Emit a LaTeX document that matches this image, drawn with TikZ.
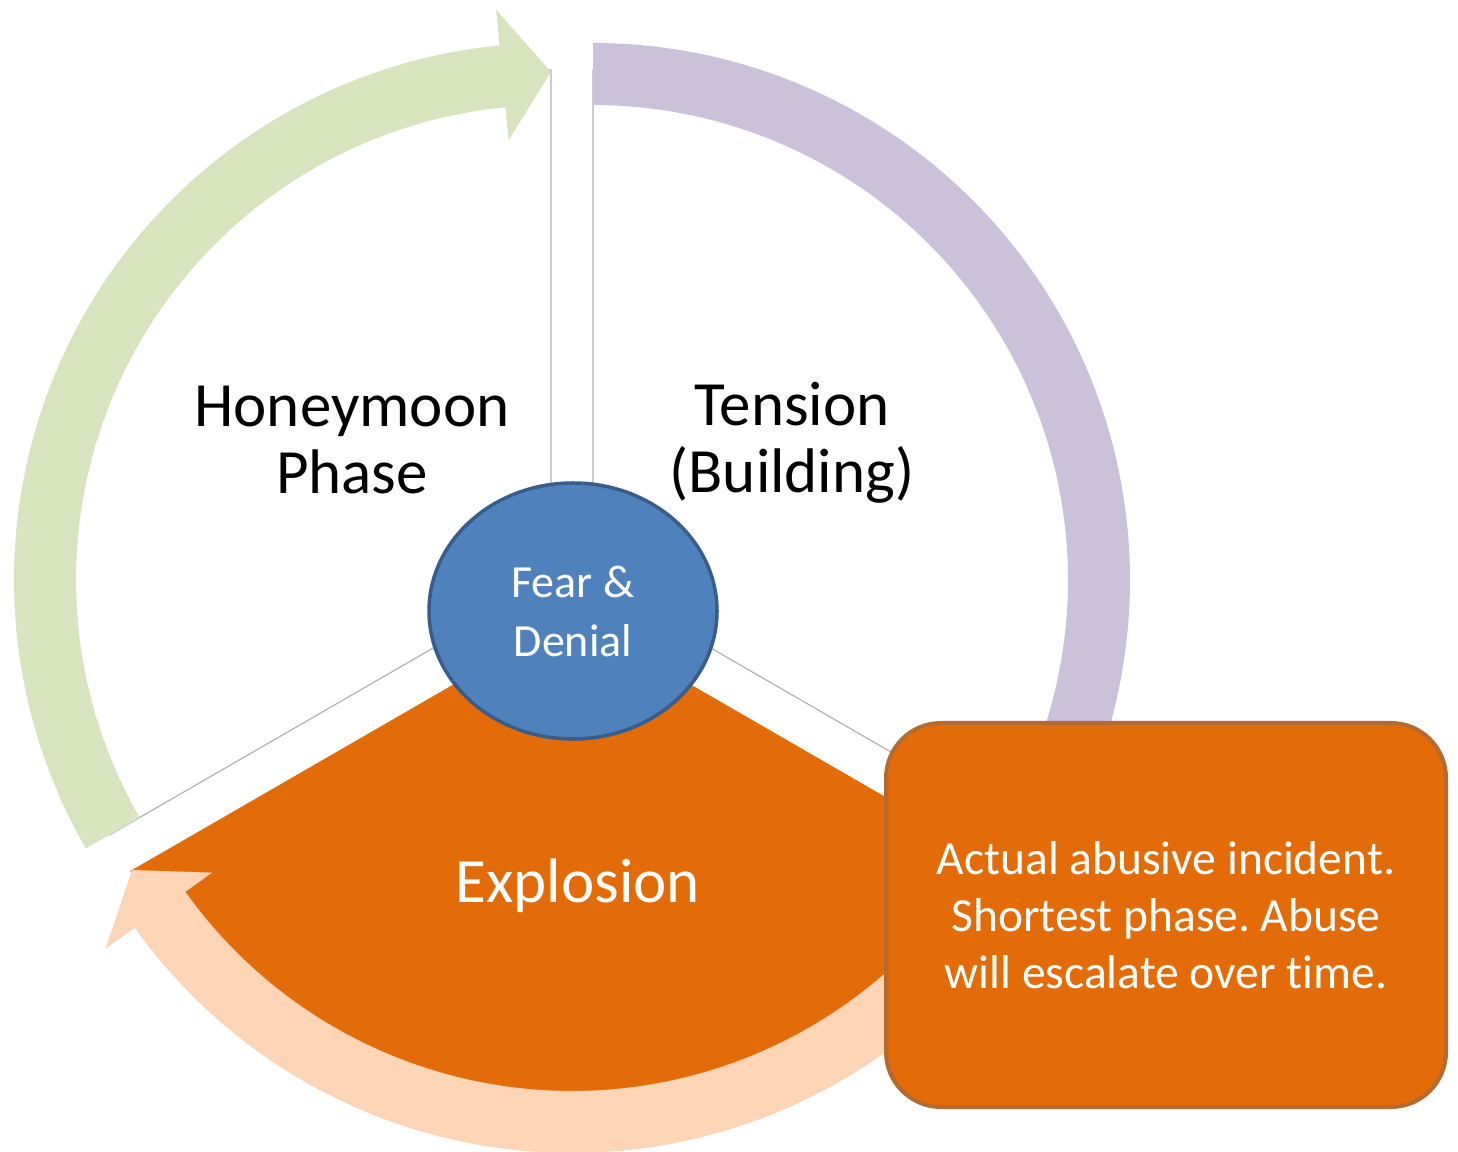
\documentclass[tikz,border=0pt]{standalone}
\usepackage{fontspec}
\setmainfont{Carlito}[Ligatures=NoCommon]
\usetikzlibrary{shapes.geometric,calc}
\definecolor{hgreen}{HTML}{D7E4BD}
\definecolor{tpurple}{HTML}{CCC1DA}
\definecolor{epeach}{HTML}{FBD5B5}
\definecolor{eorange}{HTML}{E36C09}
\definecolor{fblue}{HTML}{4F81BD}
\definecolor{fbluedark}{HTML}{385D8A}
\definecolor{cborder}{HTML}{B56A2F}
\newcommand\cyclearrow[4]{%
  \fill[#4] ($#1+(#2:537)$) arc[start angle=#2, end angle={#3+5.5}, radius=537]
    -- ($#1+({#3+5.5}:573)$) -- ($#1+(#3:508)$) -- ($#1+({#3+5.5}:442)$)
    -- ($#1+({#3+5.5}:475)$) arc[start angle={#3+5.5}, end angle=#2, radius=475] -- cycle;}
\frenchspacing
\begin{document}
\begin{tikzpicture}[x=1pt,y=1pt,
  sectorline/.style={draw=black!30, line width=1.2pt, fill=white},
  biglabel/.style={font=\fontsize{63}{67}\selectfont, align=center, inner sep=0pt},
  note/.style={draw=cborder, line width=4pt, fill=eorange, rounded corners=55pt,
    minimum width=560pt, minimum height=384pt, text=white, align=center,
    font=\fontsize{47.5}{57}\selectfont},
  hub/.style={ellipse, draw=fbluedark, line width=3.5pt, fill=fblue,
    minimum width=288pt, minimum height=256pt, inner sep=0pt, text=white,
    align=center, font=\fontsize{46}{59}\selectfont}]
\useasboundingbox (0,0) rectangle (1458,1151);
\coordinate (H) at (551,571);
\coordinate (T) at (593,571);
\coordinate (E) at (572,535);
% sectors
\path[sectorline] (H) -- ++(90:510) arc[start angle=90, end angle=210, radius=510] -- cycle;
\path[sectorline] (T) -- ++(90:510) arc[start angle=90, end angle=-30, radius=510] -- cycle;
\fill[eorange] (E) -- ++(210:510) arc[start angle=210, end angle=330, radius=510] -- cycle;
% arrows
\cyclearrow{(H)}{210}{90}{hgreen}
\cyclearrow{(T)}{90}{-30}{tpurple}
\cyclearrow{(E)}{-30}{-150}{epeach}
% hub
\node[hub] (hubnode) at (573,540) {Fear \&\\Denial};
% labels
\node[biglabel] (honey) at (352,711) {Honeymoon\\Phase};
\node[biglabel] (tension) at (792,708) {Tension\\(Building)};
\node[biglabel, text=white, anchor=base] (explosion) at (578,248) {Explosion};
% callout
\node[note] (callout) at (1166,236) {Actual abusive incident.\\Shortest phase. Abuse\\will escalate over time.};
\end{tikzpicture}
\end{document}
